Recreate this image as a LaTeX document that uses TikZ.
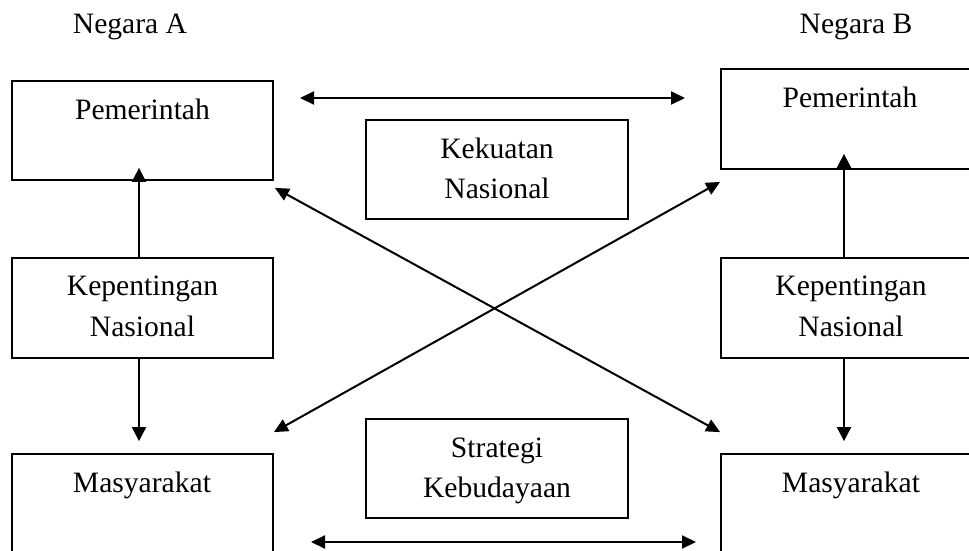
\documentclass[tikz,border=0pt]{standalone}
\usepackage{fontspec}
\setmainfont{Liberation Serif}
\usetikzlibrary{arrows.meta}
\begin{document}
\begin{tikzpicture}[x=1pt,y=-1pt,
  box/.style={draw, line width=1.8pt, rectangle, inner sep=0pt},
  lbl/.style={anchor=base, inner sep=0pt, font=\fontsize{29.6}{34}\selectfont},
  arr/.style={line width=2pt, -{Triangle[length=14pt,width=14pt]}},
  darr/.style={line width=2pt, {Triangle[length=14pt,width=13pt]}-{Triangle[length=14pt,width=13pt]}}]
\useasboundingbox (0,0) rectangle (969,550);
\clip (0,0) rectangle (969,550);
% boxes
\node[box, minimum width=261pt, minimum height=99pt] (pemA) at (142.5,130.5) {};
\node[box, minimum width=261pt, minimum height=100pt] (pemB) at (851.5,119) {};
\node[box, minimum width=261pt, minimum height=100pt] (kepA) at (142.5,308) {};
\node[box, minimum width=261pt, minimum height=100pt] (kepB) at (851.5,308) {};
\node[box, minimum width=261pt, minimum height=100pt] (masA) at (142.5,504) {};
\node[box, minimum width=261pt, minimum height=100pt] (masB) at (851.5,504) {};
\node[box, minimum width=262pt, minimum height=99pt] (kek) at (497,169.5) {};
\node[box, minimum width=262pt, minimum height=99pt] (str) at (497,468.5) {};
% texts
\node[lbl] (negA) at (130,33) {Negara A};
\node[lbl] (negB) at (856,33) {Negara B};
\node[lbl] (tpemA) at (142.5,119) {Pemerintah};
\node[lbl] (tpemB) at (850,107) {Pemerintah};
\node[lbl] (tkepA1) at (142.5,295) {Kepentingan};
\node[lbl] (tkepA2) at (142.5,336) {Nasional};
\node[lbl] (tkepB1) at (851,295) {Kepentingan};
\node[lbl] (tkepB2) at (851,336) {Nasional};
\node[lbl] (tmasA) at (142,492) {Masyarakat};
\node[lbl] (tmasB) at (851,492) {Masyarakat};
\node[lbl] (tkek1) at (497,158) {Kekuatan};
\node[lbl] (tkek2) at (497,198) {Nasional};
\node[lbl] (tstr1) at (497,457) {Strategi};
\node[lbl] (tstr2) at (497,497) {Kebudayaan};
% vertical arrows
\draw[arr] ([xshift=-3.5pt]kepA.north) -- ([xshift=-3.5pt,yshift=13pt]pemA.south);
\draw[arr] ([xshift=-3.5pt]kepA.south) -- ([xshift=-3.5pt,yshift=12pt]masA.north);
\draw[arr] ([xshift=-7.5pt]kepB.north) -- ([xshift=-7.5pt,yshift=16pt]pemB.south);
\draw[arr] ([xshift=-7.5pt]kepB.south) -- ([xshift=-7.5pt,yshift=12pt]masB.north);
% horizontal arrows
\coordinate (t1) at (300,98);
\coordinate (t2) at (685,98);
\coordinate (b1) at (311,542);
\coordinate (b2) at (696,542);
\draw[darr] (t1) -- (t2);
\draw[darr] (b1) -- (b2);
% cross arrows
\draw[darr] ([xshift=1pt,yshift=-7pt]pemA.south east) -- ([yshift=21pt]masB.north west);
\draw[darr] ([yshift=21pt]masA.north east) -- ([yshift=-12pt]pemB.south west);
\end{tikzpicture}
\end{document}
